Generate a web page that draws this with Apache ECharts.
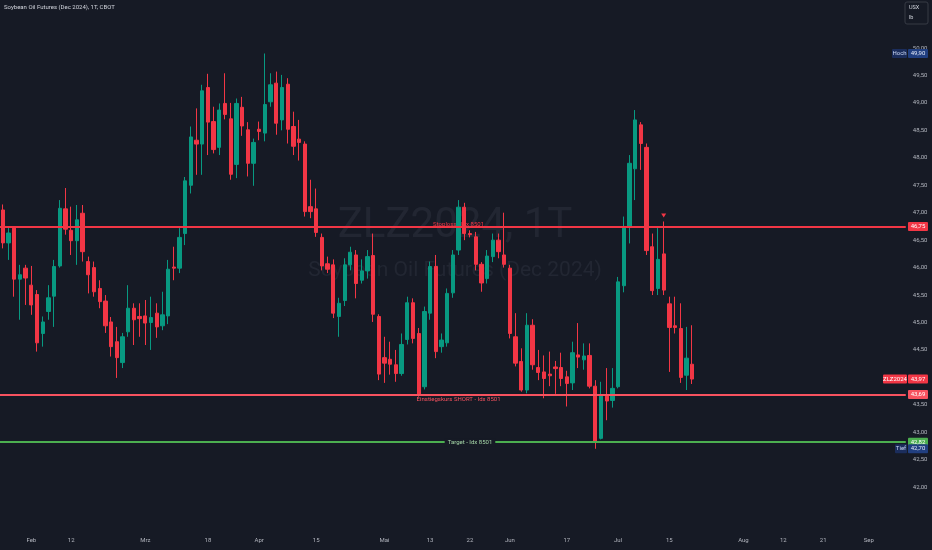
<!DOCTYPE html>
<html>
<head>
<meta charset="utf-8">
<title>ZLZ2024, 1T</title>
<script src="https://cdn.jsdelivr.net/npm/echarts@6/dist/echarts.min.js"></script>
<style>
html, body { margin: 0; padding: 0; background: #161a25; }
#container { width: 932px; height: 550px; }
</style>
</head>
<body>
<div id="container"></div>
<script>
// trading days (incl. projected future days shown on the time scale)
var tradingDays = [
    ['2024-01', [25, 26, 29, 30, 31]],
    ['2024-02', [1, 2, 5, 6, 7, 8, 9, 12, 13, 14, 15, 16, 20, 21, 22, 23, 26, 27, 28, 29]],
    ['2024-03', [1, 4, 5, 6, 7, 8, 11, 12, 13, 14, 15, 18, 19, 20, 21, 22, 25, 26, 27, 28]],
    ['2024-04', [1, 2, 3, 4, 5, 8, 9, 10, 11, 12, 15, 16, 17, 18, 19, 22, 23, 24, 25, 26, 29, 30]],
    ['2024-05', [1, 2, 3, 6, 7, 8, 9, 10, 13, 14, 15, 16, 17, 20, 21, 22, 23, 24, 28, 29, 30, 31]],
    ['2024-06', [3, 4, 5, 6, 7, 10, 11, 12, 13, 14, 17, 18, 20, 21, 24, 25, 26, 27, 28]],
    ['2024-07', [1, 2, 3, 5, 8, 9, 10, 11, 12, 15, 16, 17, 18, 19, 22, 23, 24, 25, 26, 29, 30, 31]],
    ['2024-08', [1, 2, 5, 6, 7, 8, 9, 12, 13, 14, 15, 16, 19, 20, 21, 22, 23, 26, 27, 28, 29, 30]],
    ['2024-09', [2, 3, 4, 5, 6, 9, 10]]
];

var tickLabels = [
    ['2024-02-01', 'Feb'], ['2024-02-12', '12'], ['2024-03-01', 'Mrz'], ['2024-03-18', '18'],
    ['2024-04-01', 'Apr'], ['2024-04-15', '15'], ['2024-05-01', 'Mai'], ['2024-05-13', '13'],
    ['2024-05-22', '22'], ['2024-06-03', 'Jun'], ['2024-06-17', '17'], ['2024-07-01', 'Jul'],
    ['2024-07-15', '15'], ['2024-08-01', 'Aug'], ['2024-08-12', '12'], ['2024-08-21', '21'],
    ['2024-09-02', 'Sep']
];

// daily OHLC from 2024-01-25 to 2024-07-19
var openPrices = [
    47.05, 46.45, 46.72, 45.79, 45.99, 45.68, 45.51, 44.80, 45.20, 45.48,
    46.03, 47.07, 46.68, 46.49, 46.99, 46.11, 46.00, 45.62, 45.39, 45.01,
    44.65, 44.27, 44.83, 45.26, 45.11, 45.12, 45.00, 45.17, 44.94, 45.12,
    46.01, 45.99, 46.62, 47.50, 48.32, 48.25, 49.28, 48.66, 48.19, 48.99,
    48.71, 47.88, 48.92, 48.51, 47.90, 48.52, 48.45, 49.02, 49.36, 48.69,
    49.34, 48.57, 48.34, 48.25, 47.11, 47.07, 46.55, 46.07, 46.05, 45.11,
    45.40, 46.05, 46.23, 45.77, 45.94, 46.22, 45.11, 44.36, 44.33, 44.23,
    44.07, 44.69, 45.36, 44.80, 43.83, 45.17, 46.02, 44.56, 44.63, 45.54,
    46.32, 47.10, 46.62, 46.56, 46.06, 45.80, 46.20, 46.50, 46.23, 45.99,
    44.74, 44.29, 43.77, 44.95, 44.18, 44.10, 44.06, 44.19, 44.18, 44.01,
    43.90, 44.41, 44.32, 44.40, 43.84, 42.89, 43.66, 43.58, 43.83, 45.67,
    46.75, 47.80, 48.60, 48.19, 46.38, 45.62, 46.25, 45.34, 44.94, 44.89,
    44.04, 44.24
];
var closePrices = [
    46.45, 46.63, 45.79, 45.87, 45.81, 45.32, 44.63, 45.01, 45.45, 46.02,
    47.08, 46.70, 46.49, 46.87, 46.29, 45.87, 45.56, 45.38, 44.94, 44.56,
    44.36, 44.74, 45.26, 45.05, 45.07, 44.99, 45.09, 44.92, 45.14, 45.97,
    45.99, 46.55, 47.58, 48.38, 48.25, 49.22, 48.65, 48.15, 48.87, 48.79,
    47.70, 48.99, 48.58, 47.90, 48.28, 48.48, 48.97, 49.33, 48.63, 49.28,
    48.52, 48.21, 48.28, 47.02, 47.02, 46.64, 46.03, 45.97, 45.17, 45.35,
    46.05, 46.28, 45.71, 45.94, 46.20, 45.15, 44.06, 44.26, 44.24, 44.07,
    44.60, 45.36, 44.71, 43.69, 45.20, 46.02, 44.47, 44.68, 45.53, 46.23,
    47.10, 46.62, 46.60, 46.06, 45.72, 46.21, 46.50, 46.29, 46.06, 44.80,
    44.26, 43.77, 44.95, 44.23, 44.09, 43.98, 44.03, 44.16, 43.98, 43.89,
    44.45, 44.37, 44.39, 43.84, 42.83, 43.66, 43.57, 43.80, 45.74, 46.72,
    47.90, 48.69, 48.26, 46.31, 45.58, 46.15, 45.59, 44.91, 44.91, 44.00,
    44.35, 43.97
];
var lowPrices = [
    46.35, 46.14, 45.47, 45.05, 45.32, 45.14, 44.47, 44.56, 45.05, 44.92,
    46.00, 46.60, 46.23, 46.05, 46.11, 45.53, 45.47, 45.26, 44.81, 44.38,
    43.99, 44.17, 44.74, 44.59, 44.74, 44.59, 44.50, 44.72, 44.86, 44.97,
    45.77, 45.90, 46.41, 47.35, 47.69, 47.69, 48.05, 48.08, 48.05, 48.70,
    47.60, 47.63, 48.40, 47.66, 47.49, 48.32, 48.30, 48.93, 48.42, 48.50,
    48.26, 48.05, 47.95, 46.93, 46.90, 46.56, 45.95, 45.90, 45.08, 44.74,
    45.30, 45.95, 45.44, 45.71, 45.80, 45.01, 43.95, 43.90, 44.05, 43.92,
    44.03, 44.60, 44.62, 43.65, 43.78, 45.05, 44.35, 44.45, 44.56, 45.45,
    46.23, 46.50, 46.55, 45.95, 45.56, 45.71, 46.10, 46.17, 46.00, 44.71,
    44.20, 43.74, 43.71, 44.14, 43.95, 43.62, 43.84, 43.70, 43.84, 43.47,
    43.77, 44.17, 44.14, 43.80, 42.70, 42.87, 43.22, 43.45, 43.80, 45.55,
    46.44, 47.23, 47.78, 46.23, 45.50, 45.50, 45.50, 44.10, 44.80, 43.90,
    43.77, 43.88
];
var highPrices = [
    47.15, 46.72, 46.75, 46.05, 46.05, 46.03, 45.59, 45.11, 45.68, 46.14,
    47.23, 47.45, 47.11, 47.14, 47.14, 46.20, 46.11, 45.77, 45.50, 45.10,
    44.92, 44.81, 45.68, 45.35, 45.35, 45.41, 45.47, 45.35, 45.56, 46.14,
    46.38, 46.72, 47.65, 48.57, 48.90, 49.33, 49.53, 48.93, 48.99, 49.54,
    49.00, 49.08, 49.11, 48.65, 48.35, 48.66, 49.90, 49.54, 49.57, 49.51,
    49.45, 48.84, 48.69, 48.30, 47.60, 47.44, 46.62, 46.20, 46.15, 45.45,
    46.17, 46.38, 46.32, 46.15, 46.32, 46.62, 45.15, 44.74, 44.65, 44.50,
    44.80, 45.47, 45.44, 44.90, 45.29, 46.11, 46.23, 44.80, 45.62, 46.32,
    47.23, 47.18, 46.68, 46.65, 46.10, 46.32, 46.62, 46.62, 47.00, 46.05,
    45.17, 44.53, 45.17, 45.06, 44.50, 44.40, 44.47, 44.30, 44.45, 44.12,
    44.65, 44.99, 44.62, 44.62, 43.95, 43.92, 44.17, 44.17, 45.83, 46.93,
    48.05, 48.87, 48.65, 48.26, 46.62, 46.72, 46.84, 45.47, 45.47, 45.35,
    44.92, 44.95
];

var stopLevel = 46.75, entryLevel = 43.69, targetLevel = 42.82;
var highLevel = 49.90, lowLevel = 42.70, lastPrice = 43.97;

var dates = [];
tradingDays.forEach(function (m) {
    m[1].forEach(function (d) { dates.push(m[0] + '-' + (d < 10 ? '0' + d : d)); });
});
var labelMap = {};
tickLabels.forEach(function (t) { labelMap[t[0]] = t[1]; });

var candleData = [];
for (var i = 0; i < openPrices.length; i++) {
    candleData.push([openPrices[i], closePrices[i], lowPrices[i], highPrices[i]]);
}

var BG = '#161a25', UP = '#089981', DOWN = '#f23645', ENTRY = '#f7525f', TARGET = '#4caf50';
var FONT = 'Roboto, "Noto Sans", sans-serif';
function fmt(v) { return v.toFixed(2).replace('.', ','); }

var dom = document.getElementById('container');
var myChart = echarts.init(dom, null, { renderer: 'canvas' });

var option = {
    backgroundColor: BG,
    animation: false,
    grid: { left: -4.18, top: 20.55, width: 909.96, height: 494.1 },
    xAxis: {
        type: 'category',
        data: dates,
        boundaryGap: true,
        axisLine: { show: false },
        axisTick: { show: false },
        splitLine: { show: false },
        axisLabel: {
            interval: function (idx, val) { return labelMap[val] !== undefined; },
            formatter: function (val) { return labelMap[val] || ''; },
            color: '#b2b5be',
            fontSize: 6,
            fontFamily: FONT,
            margin: 23
        }
    },
    yAxis: {
        type: 'value',
        position: 'right',
        min: 41.5,
        max: 50.5,
        interval: 0.5,
        scale: true,
        axisLine: { show: false },
        axisTick: { show: false },
        splitLine: { show: false },
        axisLabel: {
            showMinLabel: false,
            showMaxLabel: false,
            formatter: fmt,
            color: '#b2b5be',
            fontSize: 6,
            fontFamily: FONT,
            margin: 7
        }
    },
    series: [
        {
            type: 'candlestick',
            data: candleData,
            barWidth: 3.8,
            itemStyle: {
                color: UP,
                color0: DOWN,
                borderColor: UP,
                borderColor0: DOWN,
                borderWidth: 1
            },
            markLine: {
                silent: true,
                symbol: ['none', 'none'],
                label: { show: false },
                data: [
                    { yAxis: stopLevel, lineStyle: { color: DOWN, width: 2, type: 'solid' } },
                    { yAxis: entryLevel, lineStyle: { color: ENTRY, width: 2, type: 'solid' } },
                    { yAxis: targetLevel, lineStyle: { color: TARGET, width: 2, type: 'solid' } }
                ]
            },
            markPoint: {
                silent: true,
                label: { show: false },
                data: [
                    { coord: ['2024-07-12', 46.95], symbol: 'triangle', symbolRotate: 180,
                      symbolSize: [5, 4], itemStyle: { color: DOWN } }
                ]
            }
        }
    ]
};
myChart.setOption(option, true);

function yPx(v) { return myChart.convertToPixel({ yAxisIndex: 0 }, v); }
function xPx(d) { return myChart.convertToPixel({ xAxisIndex: 0 }, d); }

function tag(x, y, w, text, bg, fg) {
    return [
        { type: 'rect', z: 100, shape: { x: x, y: y - 4.5, width: w, height: 9, r: 1 }, style: { fill: bg } },
        { type: 'text', z: 101, x: x + w / 2, y: y,
          style: { text: text, fill: fg, font: '6px ' + FONT, align: 'center', verticalAlign: 'middle' } }
    ];
}

var graphics = [
    { type: 'text', z: 0, x: 455, y: 226,
      style: { text: 'ZLZ2024, 1T', fill: 'rgba(160,165,185,0.09)', font: '42px ' + FONT, align: 'center', verticalAlign: 'middle' } },
    { type: 'text', z: 0, x: 455, y: 271,
      style: { text: 'Soybean Oil Futures (Dec 2024)', fill: 'rgba(160,165,185,0.09)', font: '21px ' + FONT, align: 'center', verticalAlign: 'middle' } },
    { type: 'text', z: 100, x: 4, y: 7,
      style: { text: 'Soybean Oil Futures (Dec 2024), 1T, CBOT', fill: '#d1d4dc', font: '6px ' + FONT, align: 'left', verticalAlign: 'middle' } },
    { type: 'rect', z: 100, shape: { x: 905, y: 2, width: 23, height: 22, r: 2 },
      style: { fill: BG, stroke: '#363a45', lineWidth: 1 } },
    { type: 'text', z: 101, x: 909, y: 8,
      style: { text: 'USX', fill: '#d1d4dc', font: '5.5px ' + FONT, align: 'left', verticalAlign: 'middle' } },
    { type: 'text', z: 101, x: 909, y: 18,
      style: { text: 'lb', fill: '#d1d4dc', font: '5.5px ' + FONT, align: 'left', verticalAlign: 'middle' } },
    { type: 'text', z: 0, x: xPx('2024-05-20'), y: yPx(stopLevel) - 2,
      style: { text: 'Stoploss - Idx 8501', fill: DOWN, font: '6px ' + FONT, align: 'center', verticalAlign: 'middle' } },
    { type: 'text', z: 100, x: xPx('2024-05-20'), y: yPx(entryLevel) + 5,
      style: { text: 'Einstiegskurs SHORT - Idx 8501', fill: ENTRY, font: '6px ' + FONT, align: 'center', verticalAlign: 'middle' } },
    { type: 'text', z: 100, x: xPx('2024-05-22'), y: yPx(targetLevel),
      style: { text: 'Target - Idx 8501', fill: '#a5d6a7', font: '6px ' + FONT, align: 'center', verticalAlign: 'middle',
               backgroundColor: BG, padding: [1, 3] } }
];
graphics = graphics
    .concat(tag(892, yPx(highLevel), 15, 'Hoch', '#1b2d5c', '#c9d5f2'))
    .concat(tag(908, yPx(highLevel), 20, fmt(highLevel), '#213f80', '#e3e9f8'))
    .concat(tag(908, yPx(stopLevel), 20, fmt(stopLevel), DOWN, '#ffffff'))
    .concat(tag(883, yPx(lastPrice), 24, 'ZLZ2024', DOWN, '#ffffff'))
    .concat(tag(908, yPx(lastPrice), 20, fmt(lastPrice), DOWN, '#ffffff'))
    .concat(tag(908, yPx(entryLevel), 20, fmt(entryLevel), ENTRY, '#ffffff'))
    .concat(tag(908, yPx(targetLevel), 20, fmt(targetLevel), TARGET, '#ffffff'))
    .concat(tag(895, yPx(lowLevel), 12, 'Tief', '#1b2d5c', '#c9d5f2'))
    .concat(tag(908, yPx(lowLevel), 20, fmt(lowLevel), '#213f80', '#e3e9f8'));

myChart.setOption({ graphic: graphics });
</script>
</body>
</html>
